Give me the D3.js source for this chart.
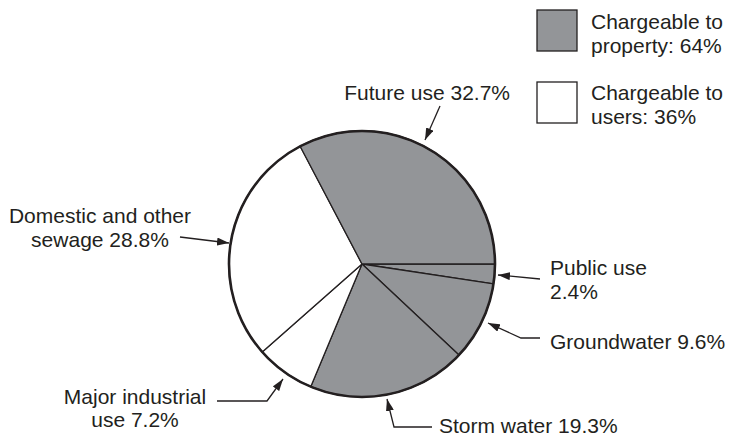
<!DOCTYPE html>
<html>
<head>
<meta charset="utf-8">
<script src="https://cdn.jsdelivr.net/npm/d3@7"></script>
<style>
  html, body { margin: 0; padding: 0; background: #fff; }
  svg { display: block; }
  text { font-family: "Liberation Sans", Arial, Helvetica, sans-serif; font-size: 21px; fill: #231f20; }
</style>
</head>
<body>
<svg id="chart" width="729" height="437"></svg>
<script>
// Slices in clockwise order starting at 3 o'clock
const categories = ["Public use", "Groundwater", "Storm water", "Major industrial use", "Domestic and other sewage", "Future use"];
const shares = [2.4, 9.6, 19.3, 7.2, 28.8, 32.7];
const chargeable = ["property", "property", "property", "users", "users", "property"];

// Legend groups
const legendLabels = [["Chargeable to", "property: 64%"], ["Chargeable to", "users: 36%"]];
const legendKeys = ["property", "users"];

// Callout label lines for each slice
const labelLines = [
  ["Public use", "2.4%"],
  ["Groundwater 9.6%"],
  ["Storm water 19.3%"],
  ["Major industrial", "use 7.2%"],
  ["Domestic and other", "sewage 28.8%"],
  ["Future use 32.7%"]
];

const svg = d3.select("#chart");
const cx = 362, cy = 264, r = 133;

const fill = d3.scaleOrdinal().domain(["property", "users"]).range(["#939598", "#ffffff"]);

const pie = d3.pie().sort(null).value(d => d)
  .startAngle(Math.PI / 2).endAngle(Math.PI / 2 + 2 * Math.PI);
const arcs = pie(shares);
const arc = d3.arc().innerRadius(0).outerRadius(r);

const g = svg.append("g").attr("transform", `translate(${cx},${cy})`);
g.selectAll("path.slice").data(arcs).join("path")
  .attr("class", "slice")
  .attr("d", arc)
  .attr("fill", (d, i) => fill(chargeable[i]))
  .attr("stroke", "#231f20")
  .attr("stroke-width", 1.3)
  .attr("stroke-linejoin", "round");
g.append("circle").attr("r", r).attr("fill", "none")
  .attr("stroke", "#231f20").attr("stroke-width", 2.6);

// Arrowhead
svg.append("defs").append("marker")
  .attr("id", "arrow").attr("viewBox", "0 0 12 8")
  .attr("refX", 12).attr("refY", 4)
  .attr("markerWidth", 12).attr("markerHeight", 8)
  .attr("markerUnits", "userSpaceOnUse")
  .attr("orient", "auto")
  .append("path").attr("d", "M0,0 L12,4 L0,8 Z").attr("fill", "#231f20");

// Callout layout: text anchor point, line step, alignment and leader path (ending on the rim)
const callouts = [
  { x: 550, y: 275, step: 24, anchor: "start", leader: [[540, 279], [498, 275]] },
  { x: 550, y: 349, step: 24, anchor: "start", leader: [[540, 338], [521, 338], [488, 323]] },
  { x: 439, y: 433, step: 24, anchor: "start", leader: [[432, 427], [394, 427], [387, 399]] },
  { x: 135, y: 404, step: 23, anchor: "middle", leader: [[217, 401], [267, 401], [283, 379]] },
  { x: 100, y: 223, step: 24, anchor: "middle", leader: [[180, 237], [229, 243]] },
  { x: 510, y: 100, step: 24, anchor: "end", leader: [[440, 106], [425, 140]] }
];

const line = d3.line();
const lg = svg.append("g");
callouts.forEach((c, i) => {
  labelLines[i].forEach((s, j) => {
    lg.append("text").attr("x", c.x).attr("y", c.y + j * c.step)
      .attr("text-anchor", c.anchor).text(s);
  });
  lg.append("path").attr("d", line(c.leader))
    .attr("fill", "none").attr("stroke", "#231f20").attr("stroke-width", 1.3)
    .attr("marker-end", "url(#arrow)");
});

// Legend
const leg = svg.append("g");
const legendBoxY = [10, 82];
const legendTextY = [29, 100];
legendKeys.forEach((k, i) => {
  leg.append("rect").attr("x", 537).attr("y", legendBoxY[i]).attr("width", 40).attr("height", 41)
    .attr("fill", fill(k)).attr("stroke", "#231f20").attr("stroke-width", 1.3);
  legendLabels[i].forEach((s, j) => {
    leg.append("text").attr("x", 591).attr("y", legendTextY[i] + j * 24).text(s);
  });
});
</script>
</body>
</html>
